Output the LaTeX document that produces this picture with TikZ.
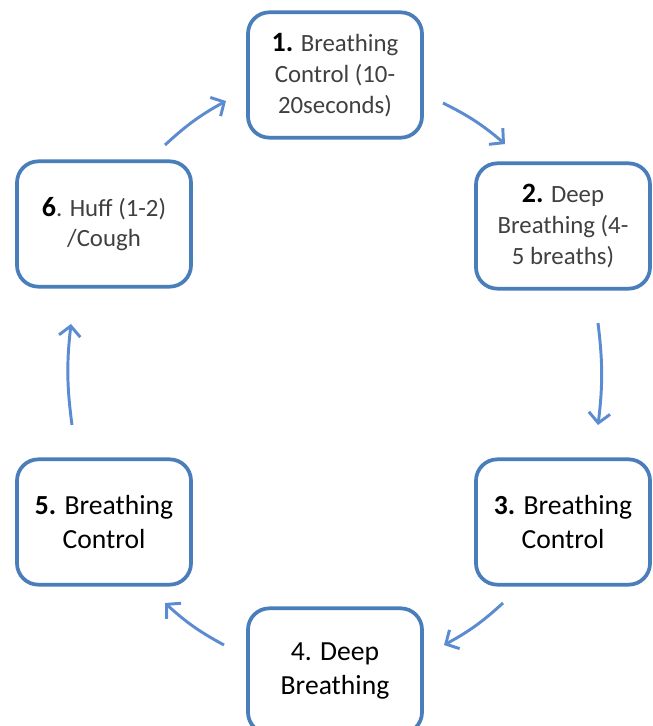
\documentclass[tikz,border=0pt]{standalone}
\usepackage{fontspec}
\setmainfont{Carlito}
\usetikzlibrary{arrows.meta}
\definecolor{boxblue}{HTML}{4A7EBB}
\definecolor{arrblue}{HTML}{5B8BD0}
\definecolor{txtgray}{HTML}{404040}
\begin{document}
\begin{tikzpicture}[x=0.75pt,y=-0.75pt,
  stepbox/.style={draw=boxblue, line width=2.8pt, rounded corners=16pt,
    minimum width=130.5pt, minimum height=94pt, fill=white, align=center, inner sep=0pt},
  smalltxt/.style={font=\fontsize{18.6}{23}\selectfont, text=txtgray},
  bigtxt/.style={font=\fontsize{20.7}{26}\selectfont, text=black},
  flow/.style={draw=arrblue, line width=2.2pt, -{Straight Barb[length=7.5pt,width=16pt]}, bend left=7}]
\useasboundingbox (0,0) rectangle (653,726);
\fill[white] (0,0) rectangle (653,726);

\node[stepbox, smalltxt] (s1) at (335,75)
  {{\color{black}\fontsize{21}{23}\selectfont\bfseries 1.} Breathing\\Control (10-\\20seconds)};
\node[stepbox, smalltxt] (s2) at (563,226)
  {{\color{black}\fontsize{21}{23}\selectfont\bfseries 2.} Deep\\Breathing (4-\\5 breaths)};
\node[stepbox, bigtxt] (s3) at (563,522)
  {\textbf{3.} Breathing\\Control};
\node[stepbox, bigtxt] (s4) at (335,671)
  {4. Deep\\Breathing};
\node[stepbox, bigtxt] (s5) at (104,522)
  {\textbf{5.} Breathing\\Control};
\node[stepbox, smalltxt] (s6) at (104,224)
  {{\color{black}\fontsize{21}{23}\selectfont\bfseries 6}. Huff (1-2)\\/Cough};

\coordinate (a1s) at (443,103); \coordinate (a1e) at (505,144);
\coordinate (a2s) at (598,323); \coordinate (a2e) at (598,425);
\coordinate (a3s) at (503,603); \coordinate (a3e) at (444,645);
\coordinate (a4s) at (224,645); \coordinate (a4e) at (165,603);
\coordinate (a5s) at (72,425);  \coordinate (a5e) at (71,324);
\coordinate (a6s) at (165,145); \coordinate (a6e) at (226,101);

\draw[flow] (a1s) to (a1e);
\draw[flow] (a2s) to (a2e);
\draw[flow] (a3s) to (a3e);
\draw[flow] (a4s) to (a4e);
\draw[flow] (a5s) to (a5e);
\draw[flow] (a6s) to (a6e);
\end{tikzpicture}
\end{document}
